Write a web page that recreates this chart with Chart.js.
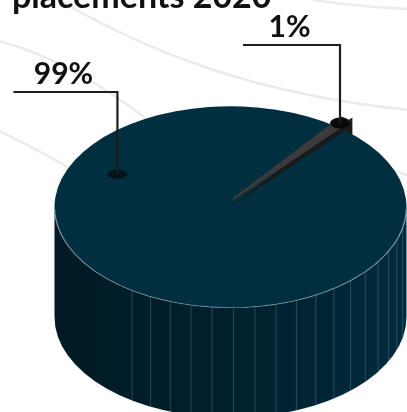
<!DOCTYPE html>
<html><head><meta charset="utf-8">
<script src="https://cdn.jsdelivr.net/npm/chart.js@4.4.1/dist/chart.umd.min.js"></script>
<style>html,body{margin:0;padding:0;background:#fff;overflow:hidden}#wrap{position:relative;width:407px;height:412px}</style>
</head><body><div id="wrap"><canvas id="c"></canvas></div>
<script>
// ---- data ----
const titleText = 'placements 2020';
const categories = ['99%', '1%'];
const values = [99, 1];
const valueLabels = values.map(v => v + '%');

// ---- style / layout ----
const sliceColors = ['#022f40', '#3b3b3b'];
const faceColors = ['#133f50', '#1a1a1a'];
const dotColors = ['#02141c', '#0a0a0a'];
const sliceBorders = [0, 3];
const sliceOffsets = [0, 16];
const sliceLift = [0, 6];          // screen px
const anchorFrac = [0.719, 0.5];   // position along slice span
const anchorRad = [0.72, 0.95];    // fraction of radius
const leaderY = [92, 45];
const leaderLen = [104, 97];
const CY = 207, K = 0.572, DEPTH = 110;

function geom(el, i) {
  const off = (el.options.offset || 0) / 4;
  const circ = el.endAngle - el.startAngle;
  const fix = 1 - Math.sin(Math.min(Math.PI, circ));
  const mid = (el.startAngle + el.endAngle) / 2;
  return { x: el.x + Math.cos(mid) * off, y: el.y + Math.sin(mid) * off - sliceLift[i] / K,
           r: el.outerRadius + off * fix, s: el.startAngle, e: el.endAngle };
}

const pie3d = {
  id: 'pie3d',
  beforeDraw(chart) {
    const ctx = chart.ctx;
    ctx.save();
    ctx.fillStyle = '#fff'; ctx.fillRect(0, 0, chart.width, chart.height);
    ctx.strokeStyle = '#ebebeb'; ctx.lineWidth = 2.5;
    ctx.beginPath(); ctx.moveTo(-5, 40); ctx.quadraticCurveTo(75, 60, 160, 130); ctx.stroke();
    ctx.beginPath(); ctx.moveTo(-5, 129); ctx.quadraticCurveTo(50, 155, 110, 192); ctx.stroke();
    ctx.beginPath(); ctx.moveTo(45, -8); ctx.bezierCurveTo(150, 55, 260, 95, 410, 110); ctx.stroke();
    ctx.beginPath(); ctx.moveTo(313, 0); ctx.quadraticCurveTo(360, 7, 410, 9); ctx.stroke();
    ctx.beginPath(); ctx.moveTo(392, 170); ctx.quadraticCurveTo(400, 173, 410, 176); ctx.stroke();
    // title
    ctx.fillStyle = '#111'; ctx.font = 'bold 34px Lato'; ctx.textBaseline = 'alphabetic';
    ctx.fillText(titleText, 12, 8);
    ctx.restore();
  },
  beforeDatasetsDraw(chart) {
    const ctx = chart.ctx;
    const els = chart.getDatasetMeta(0).data;
    const y0 = els[0].y;
    ctx.save();
    ctx.translate(0, CY); ctx.scale(1, K); ctx.translate(0, -y0);
    els.forEach((el, i) => {
      if (sliceLift[i] && !el._lifted) {
        const proto = Object.getPrototypeOf(el);
        el.draw = function (c, a) { c.save(); c.translate(0, -sliceLift[i] / K); proto.draw.call(this, c, a); c.restore(); };
        el._lifted = true;
      }
    });
    const Dt = DEPTH / K;
    const gs = els.map((el, i) => geom(el, i));
    // radial faces
    gs.forEach((g, i) => {
      ctx.fillStyle = faceColors[i];
      [[g.e, Math.cos(g.e) > 0], [g.s, Math.cos(g.s) < 0]].forEach(([a, vis]) => {
        if (!vis) return;
        const px = g.x + g.r * Math.cos(a), py = g.y + g.r * Math.sin(a);
        ctx.beginPath(); ctx.moveTo(g.x, g.y); ctx.lineTo(px, py); ctx.lineTo(px, py + Dt); ctx.lineTo(g.x, g.y + Dt); ctx.closePath(); ctx.fill();
        if (sliceBorders[i]) { ctx.strokeStyle = faceColors[i]; ctx.lineWidth = sliceBorders[i] * 1.6; ctx.stroke(); }
      });
    });
    // outer faces
    gs.forEach((g, i) => {
      for (let k = -1; k <= 1; k++) {
        const lo = Math.max(g.s, 2 * Math.PI * k), hi = Math.min(g.e, Math.PI + 2 * Math.PI * k);
        if (hi <= lo) continue;
        let fill = faceColors[i];
        if (i === 0) {
          fill = ctx.createLinearGradient(g.x - g.r, 0, g.x + g.r, 0);
          fill.addColorStop(0, '#001a25'); fill.addColorStop(0.5, '#00202d'); fill.addColorStop(1, '#002b3c');
        }
        ctx.fillStyle = fill;
        ctx.beginPath(); ctx.arc(g.x, g.y, g.r, lo, hi, false); ctx.arc(g.x, g.y + Dt, g.r, hi, lo, true); ctx.closePath(); ctx.fill();
        if (i === 0) {
          ctx.strokeStyle = 'rgba(150,178,190,0.45)'; ctx.lineWidth = 0.8;
          for (let d = 12; d <= 125; d += 7) {
            const a = d * Math.PI / 180;
            if (a < lo - 2 * Math.PI * k || a > hi - 2 * Math.PI * k) continue;
            const px = g.x + g.r * Math.cos(a), py = g.y + g.r * Math.sin(a);
            ctx.beginPath(); ctx.moveTo(px, py); ctx.lineTo(px, py + Dt); ctx.stroke();
          }
        }
      }
    });
  },
  afterDatasetsDraw(chart) {
    const ctx = chart.ctx;
    const els = chart.getDatasetMeta(0).data;
    const y0 = els[0].y;
    const g0 = geom(els[0], 0);
    // rim highlight (still in transformed space)
    ctx.strokeStyle = 'rgba(170,195,205,0.55)'; ctx.lineWidth = 1.5;
    ctx.beginPath(); ctx.arc(g0.x, g0.y, g0.r, 0.02, Math.PI - 0.02); ctx.stroke();
    ctx.restore();
    // labels
    els.forEach((el, i) => {
      const g = geom(el, i);
      const a = g.s + anchorFrac[i] * (g.e - g.s);
      const r = anchorRad[i] * g.r;
      const x = g.x + r * Math.cos(a);
      const y = CY + (g.y + r * Math.sin(a) - y0) * K;
      ctx.save();
      ctx.fillStyle = dotColors[i];
      ctx.beginPath(); ctx.ellipse(x, y, 10, i ? 5.5 : 4.5, 0, 0, Math.PI * 2); ctx.fill();
      ctx.strokeStyle = '#1e1e1e'; ctx.lineWidth = 2.2;
      ctx.beginPath(); ctx.moveTo(x, y); ctx.lineTo(x, leaderY[i]); ctx.lineTo(x - leaderLen[i], leaderY[i]); ctx.stroke();
      ctx.fillStyle = '#111'; ctx.font = 'bold 30px Lato'; ctx.textAlign = 'center'; ctx.textBaseline = 'alphabetic';
      ctx.fillText(valueLabels[i], x - leaderLen[i] / 2 - 2, leaderY[i] - 8);
      ctx.restore();
    });
  }
};

new Chart(document.getElementById('c'), {
  type: 'pie',
  data: {
    labels: categories,
    datasets: [{
      data: values,
      backgroundColor: sliceColors,
      borderColor: sliceColors,
      borderWidth: sliceBorders,
      offset: sliceOffsets,
      radius: 176,
      clip: false
    }]
  },
  options: {
    responsive: true,
    maintainAspectRatio: false,
    animation: false,
    events: [],
    rotation: 40.6,
    layout: { padding: { left: 54, right: 0, top: 0, bottom: 0 } },
    plugins: { legend: { display: false }, tooltip: { enabled: false } }
  },
  plugins: [pie3d]
});
</script></body></html>
